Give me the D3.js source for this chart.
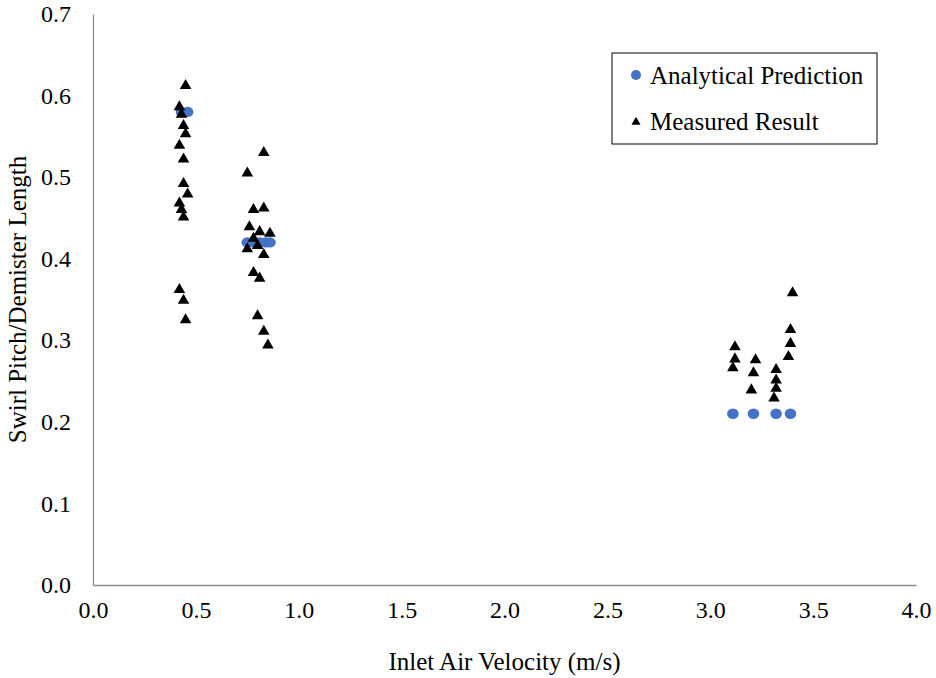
<!DOCTYPE html>
<html>
<head>
<meta charset="utf-8">
<title>Swirl Pitch vs Inlet Air Velocity</title>
<script src="https://d3js.org/d3.v7.min.js"></script>
<style>
    body { margin: 0; background: #fff; }
    svg text { font-family: "Liberation Serif", "Times New Roman", serif; fill: #000; }
</style>
</head>
<body>
<div id="chart"></div>
<script>
// analytical prediction (blue circles)
var predX = [0.43, 0.46, 0.75, 0.78, 0.81, 0.84, 0.86, 3.11, 3.21, 3.32, 3.39];
var predY = [0.58, 0.58, 0.42, 0.42, 0.42, 0.42, 0.42, 0.21, 0.21, 0.21, 0.21];

// measured result (black triangles)
var measX = [0.45, 0.42, 0.43, 0.44, 0.45, 0.42, 0.44, 0.44, 0.46, 0.42, 0.43, 0.44, 0.42, 0.44, 0.45,
             0.83, 0.75, 0.78, 0.83, 0.76, 0.81, 0.86, 0.78, 0.80, 0.75, 0.83, 0.78, 0.81, 0.80, 0.83, 0.85,
             3.12, 3.12, 3.11, 3.22, 3.21, 3.20, 3.32, 3.32, 3.32, 3.31, 3.40, 3.39, 3.39, 3.38];
var measY = [0.612, 0.586, 0.577, 0.563, 0.553, 0.539, 0.522, 0.492, 0.479, 0.468, 0.460, 0.451, 0.362, 0.349, 0.325,
             0.530, 0.505, 0.460, 0.462, 0.439, 0.433, 0.431, 0.425, 0.416, 0.412, 0.405, 0.383, 0.376, 0.330, 0.311, 0.294,
             0.292, 0.277, 0.266, 0.276, 0.260, 0.239, 0.264, 0.251, 0.241, 0.229, 0.358, 0.313, 0.296, 0.280];

var xTicks = [0, 0.5, 1, 1.5, 2, 2.5, 3, 3.5, 4];
var yTicks = [0, 0.1, 0.2, 0.3, 0.4, 0.5, 0.6, 0.7];

var W = 936, H = 678;
var margin = { top: 14, right: 20, bottom: 93, left: 93 };
var width = 916 - margin.left;
var height = 585 - margin.top;
var serif = '"Liberation Serif", "Times New Roman", serif';

var svg = d3.select("#chart").append("svg")
    .attr("width", W)
    .attr("height", H);

var g = svg.append("g")
    .attr("transform", "translate(" + margin.left + "," + margin.top + ")");

var x = d3.scaleLinear().domain([0, 4]).range([0, width]);
var y = d3.scaleLinear().domain([0, 0.7]).range([height, 0]);

// x axis
var xAxis = g.append("g")
    .attr("transform", "translate(0," + height + ")")
    .call(d3.axisBottom(x).tickValues(xTicks).tickSize(0).tickPadding(16).tickFormat(d3.format(".1f")));
xAxis.attr("font-family", serif);
xAxis.select(".domain").attr("stroke", "#8c8c8c").attr("stroke-width", 1.3);
xAxis.selectAll("text").style("font-family", serif).style("font-size", "24px");

// y axis
var yAxis = g.append("g")
    .call(d3.axisLeft(y).tickValues(yTicks).tickSize(0).tickPadding(22).tickFormat(d3.format(".1f")));
yAxis.attr("font-family", serif);
yAxis.select(".domain").attr("stroke", "#8c8c8c").attr("stroke-width", 1.3);
yAxis.selectAll("text").style("font-family", serif).style("font-size", "24px");

// axis titles
svg.append("text")
    .attr("x", margin.left + width / 2)
    .attr("y", 670)
    .attr("text-anchor", "middle")
    .attr("font-size", 25)
    .text("Inlet Air Velocity (m/s)");

svg.append("text")
    .attr("transform", "translate(26," + (margin.top + height / 2) + ") rotate(-90)")
    .attr("text-anchor", "middle")
    .attr("font-size", 25)
    .text("Swirl Pitch/Demister Length");

var blue = "#4472C4";
var tri = d3.symbol().type(d3.symbolTriangle).size(58);

// predictions
g.selectAll("ellipse.pred")
    .data(d3.range(predX.length))
    .enter().append("ellipse")
    .attr("class", "pred")
    .attr("cx", function (i) { return x(predX[i]); })
    .attr("cy", function (i) { return y(predY[i]); })
    .attr("rx", 5.8)
    .attr("ry", 5.2)
    .attr("fill", blue);

// measured
g.selectAll("path.meas")
    .data(d3.range(measX.length))
    .enter().append("path")
    .attr("class", "meas")
    .attr("transform", function (i) { return "translate(" + x(measX[i]) + "," + y(measY[i]) + ")"; })
    .attr("d", tri)
    .attr("fill", "#000");

// legend
var legend = svg.append("g").attr("transform", "translate(612,53)");
legend.append("rect")
    .attr("width", 265)
    .attr("height", 91)
    .attr("fill", "#fff")
    .attr("stroke", "#000")
    .attr("stroke-width", 1);
legend.append("circle")
    .attr("cx", 24).attr("cy", 22).attr("r", 5).attr("fill", blue);
legend.append("text")
    .attr("x", 38).attr("y", 31)
    .attr("font-size", 25)
    .text("Analytical Prediction");
legend.append("path")
    .attr("transform", "translate(24,69)")
    .attr("d", d3.symbol().type(d3.symbolTriangle).size(36))
    .attr("fill", "#000");
legend.append("text")
    .attr("x", 38).attr("y", 77)
    .attr("font-size", 25)
    .text("Measured Result");
</script>
</body>
</html>
